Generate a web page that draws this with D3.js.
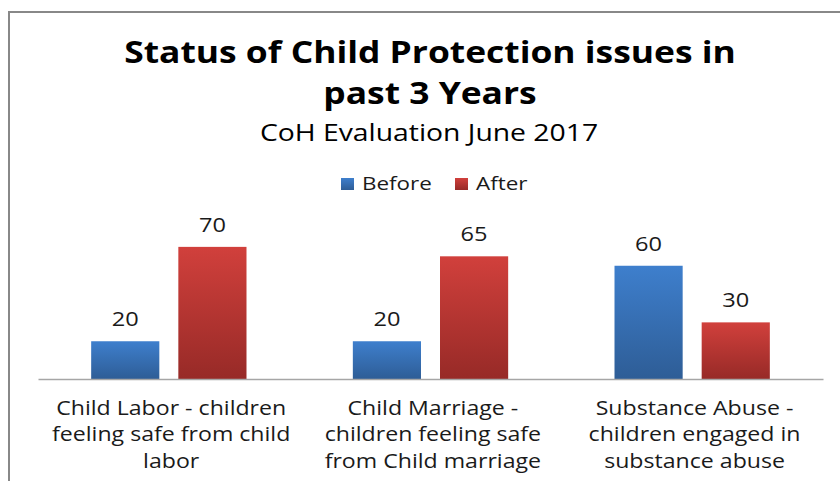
<!DOCTYPE html>
<html>
<head>
<meta charset="utf-8">
<script src="https://cdn.jsdelivr.net/npm/d3@7"></script>
<style>
  body { margin: 0; background: #fff; }
  svg { display: block; }
  .title { font-family: 'Open Sans', sans-serif; font-weight: bold; fill: #000; }
  .subtitle { font-family: 'Open Sans', sans-serif; fill: #000; }
  .legend, .value, .cat { font-family: 'Open Sans', sans-serif; fill: #1a1a1a; }
</style>
</head>
<body>
<div id="chart"></div>
<script>
// chart data
var categories = ['Child Labor', 'Child Marriage', 'Substance Abuse'];
var categoryLines = [
  ['Child Labor - children', 'feeling safe from child', 'labor'],
  ['Child Marriage -', 'children feeling safe', 'from Child marriage'],
  ['Substance Abuse -', 'children engaged in', 'substance abuse']
];
var series = ['Before', 'After'];
var beforeValues = [20, 20, 60];
var afterValues = [70, 65, 30];

var width = 840;
var height = 481;
var plotLeft = 38, plotRight = 823, plotTop = 228, plotBottom = 379;
// the original text looks stretched sideways
var stretch = 1.18;

var svg = d3.select('#chart').append('svg')
  .attr('width', width)
  .attr('height', height);

// gradients, one per series
var colors = {
  Before: ['#3e7fcd', '#2e5d96'],
  After: ['#d1403c', '#972a27']
};
var defs = svg.append('defs');
series.forEach(function(s) {
  var g = defs.append('linearGradient')
    .attr('id', 'grad-' + s)
    .attr('x1', 0).attr('y1', 0)
    .attr('x2', 0).attr('y2', 1);
  g.append('stop').attr('offset', '0%').attr('stop-color', colors[s][0]);
  g.append('stop').attr('offset', '100%').attr('stop-color', colors[s][1]);
});

// frame
svg.append('path')
  .attr('d', 'M9,' + height + 'V12H' + width)
  .attr('fill', 'none')
  .attr('stroke', '#888')
  .attr('stroke-width', 2);

// titles
svg.append('text')
  .attr('class', 'title')
  .attr('x', 430).attr('y', 63)
  .attr('text-anchor', 'middle')
  .style('font-size', '30px')
  .text('Status of Child Protection issues in');
svg.append('text')
  .attr('class', 'title')
  .attr('x', 430).attr('y', 104)
  .attr('text-anchor', 'middle')
  .style('font-size', '30px')
  .text('past 3 Years');
svg.append('text')
  .attr('class', 'subtitle')
  .attr('x', 429).attr('y', 141)
  .attr('text-anchor', 'middle')
  .style('font-size', '24px')
  .text('CoH Evaluation June 2017');

// scales
var x0 = d3.scaleBand()
  .domain(categories)
  .range([plotLeft, plotRight]);

var x1 = d3.scaleBand()
  .domain(series)
  .range([0, x0.bandwidth()])
  .paddingInner(0.218)
  .paddingOuter(0.61);

var y = d3.scaleLinear()
  .domain([0, 80])
  .range([plotBottom, plotTop]);

var data = categories.map(function(c, i) {
  return { category: c, values: [
    { key: 'Before', value: beforeValues[i] },
    { key: 'After', value: afterValues[i] }
  ] };
});

// bars
var groups = svg.selectAll('g.group')
  .data(data)
  .enter()
  .append('g')
  .attr('class', 'group')
  .attr('transform', function(d) {
    return 'translate(' + x0(d.category) + ',0)';
  });

groups.selectAll('rect')
  .data(function(d) { return d.values; })
  .enter()
  .append('rect')
  .attr('x', function(d) { return x1(d.key); })
  .attr('y', function(d) { return y(d.value); })
  .attr('width', x1.bandwidth())
  .attr('height', function(d) { return y(0) - y(d.value); })
  .attr('fill', function(d) { return 'url(#grad-' + d.key + ')'; });

groups.selectAll('text.value')
  .data(function(d) { return d.values; })
  .enter()
  .append('text')
  .attr('class', 'value')
  .attr('x', function(d) { return x1(d.key) + x1.bandwidth() / 2; })
  .attr('y', function(d) { return y(d.value) - 15; })
  .attr('text-anchor', 'middle')
  .style('font-size', '20px')
  .text(function(d) { return d.value; });

// x axis
var xAxis = d3.axisBottom(x0).tickSize(0).tickFormat('');
var axisG = svg.append('g')
  .attr('transform', 'translate(0,' + plotBottom + ')')
  .call(xAxis);
axisG.select('.domain').attr('stroke', '#a6a6a6').attr('stroke-width', 1.3);

axisG.selectAll('.tick text').remove();
axisG.selectAll('.tick')
  .append('text')
  .attr('class', 'cat')
  .attr('text-anchor', 'middle')
  .style('font-size', '19.6px')
  .selectAll('tspan')
  .data(function(d) { return categoryLines[categories.indexOf(d)]; })
  .enter()
  .append('tspan')
  .attr('x', 2)
  .attr('y', function(d, i) { return 36 + i * 26.5; })
  .text(function(d) { return d; });

// legend
var legend = svg.append('g')
  .attr('transform', 'translate(341,178)')
  .selectAll('g')
  .data(series)
  .enter()
  .append('g')
  .attr('transform', function(d, i) { return 'translate(' + i * 114 + ',0)'; });

legend.append('rect')
  .attr('width', 13)
  .attr('height', 12)
  .attr('fill', function(d) { return 'url(#grad-' + d + ')'; });

legend.append('text')
  .attr('class', 'legend')
  .attr('x', 21)
  .attr('y', 12)
  .style('font-size', '19px')
  .text(function(d) { return d; });

// widen every text around its x anchor
svg.selectAll('text').each(function() {
  var t = d3.select(this);
  var ax = +t.attr('x') || 0;
  t.attr('transform', 'translate(' + ax + ',0) scale(' + stretch + ',1) translate(' + (-ax) + ',0)');
});
</script>
</body>
</html>
